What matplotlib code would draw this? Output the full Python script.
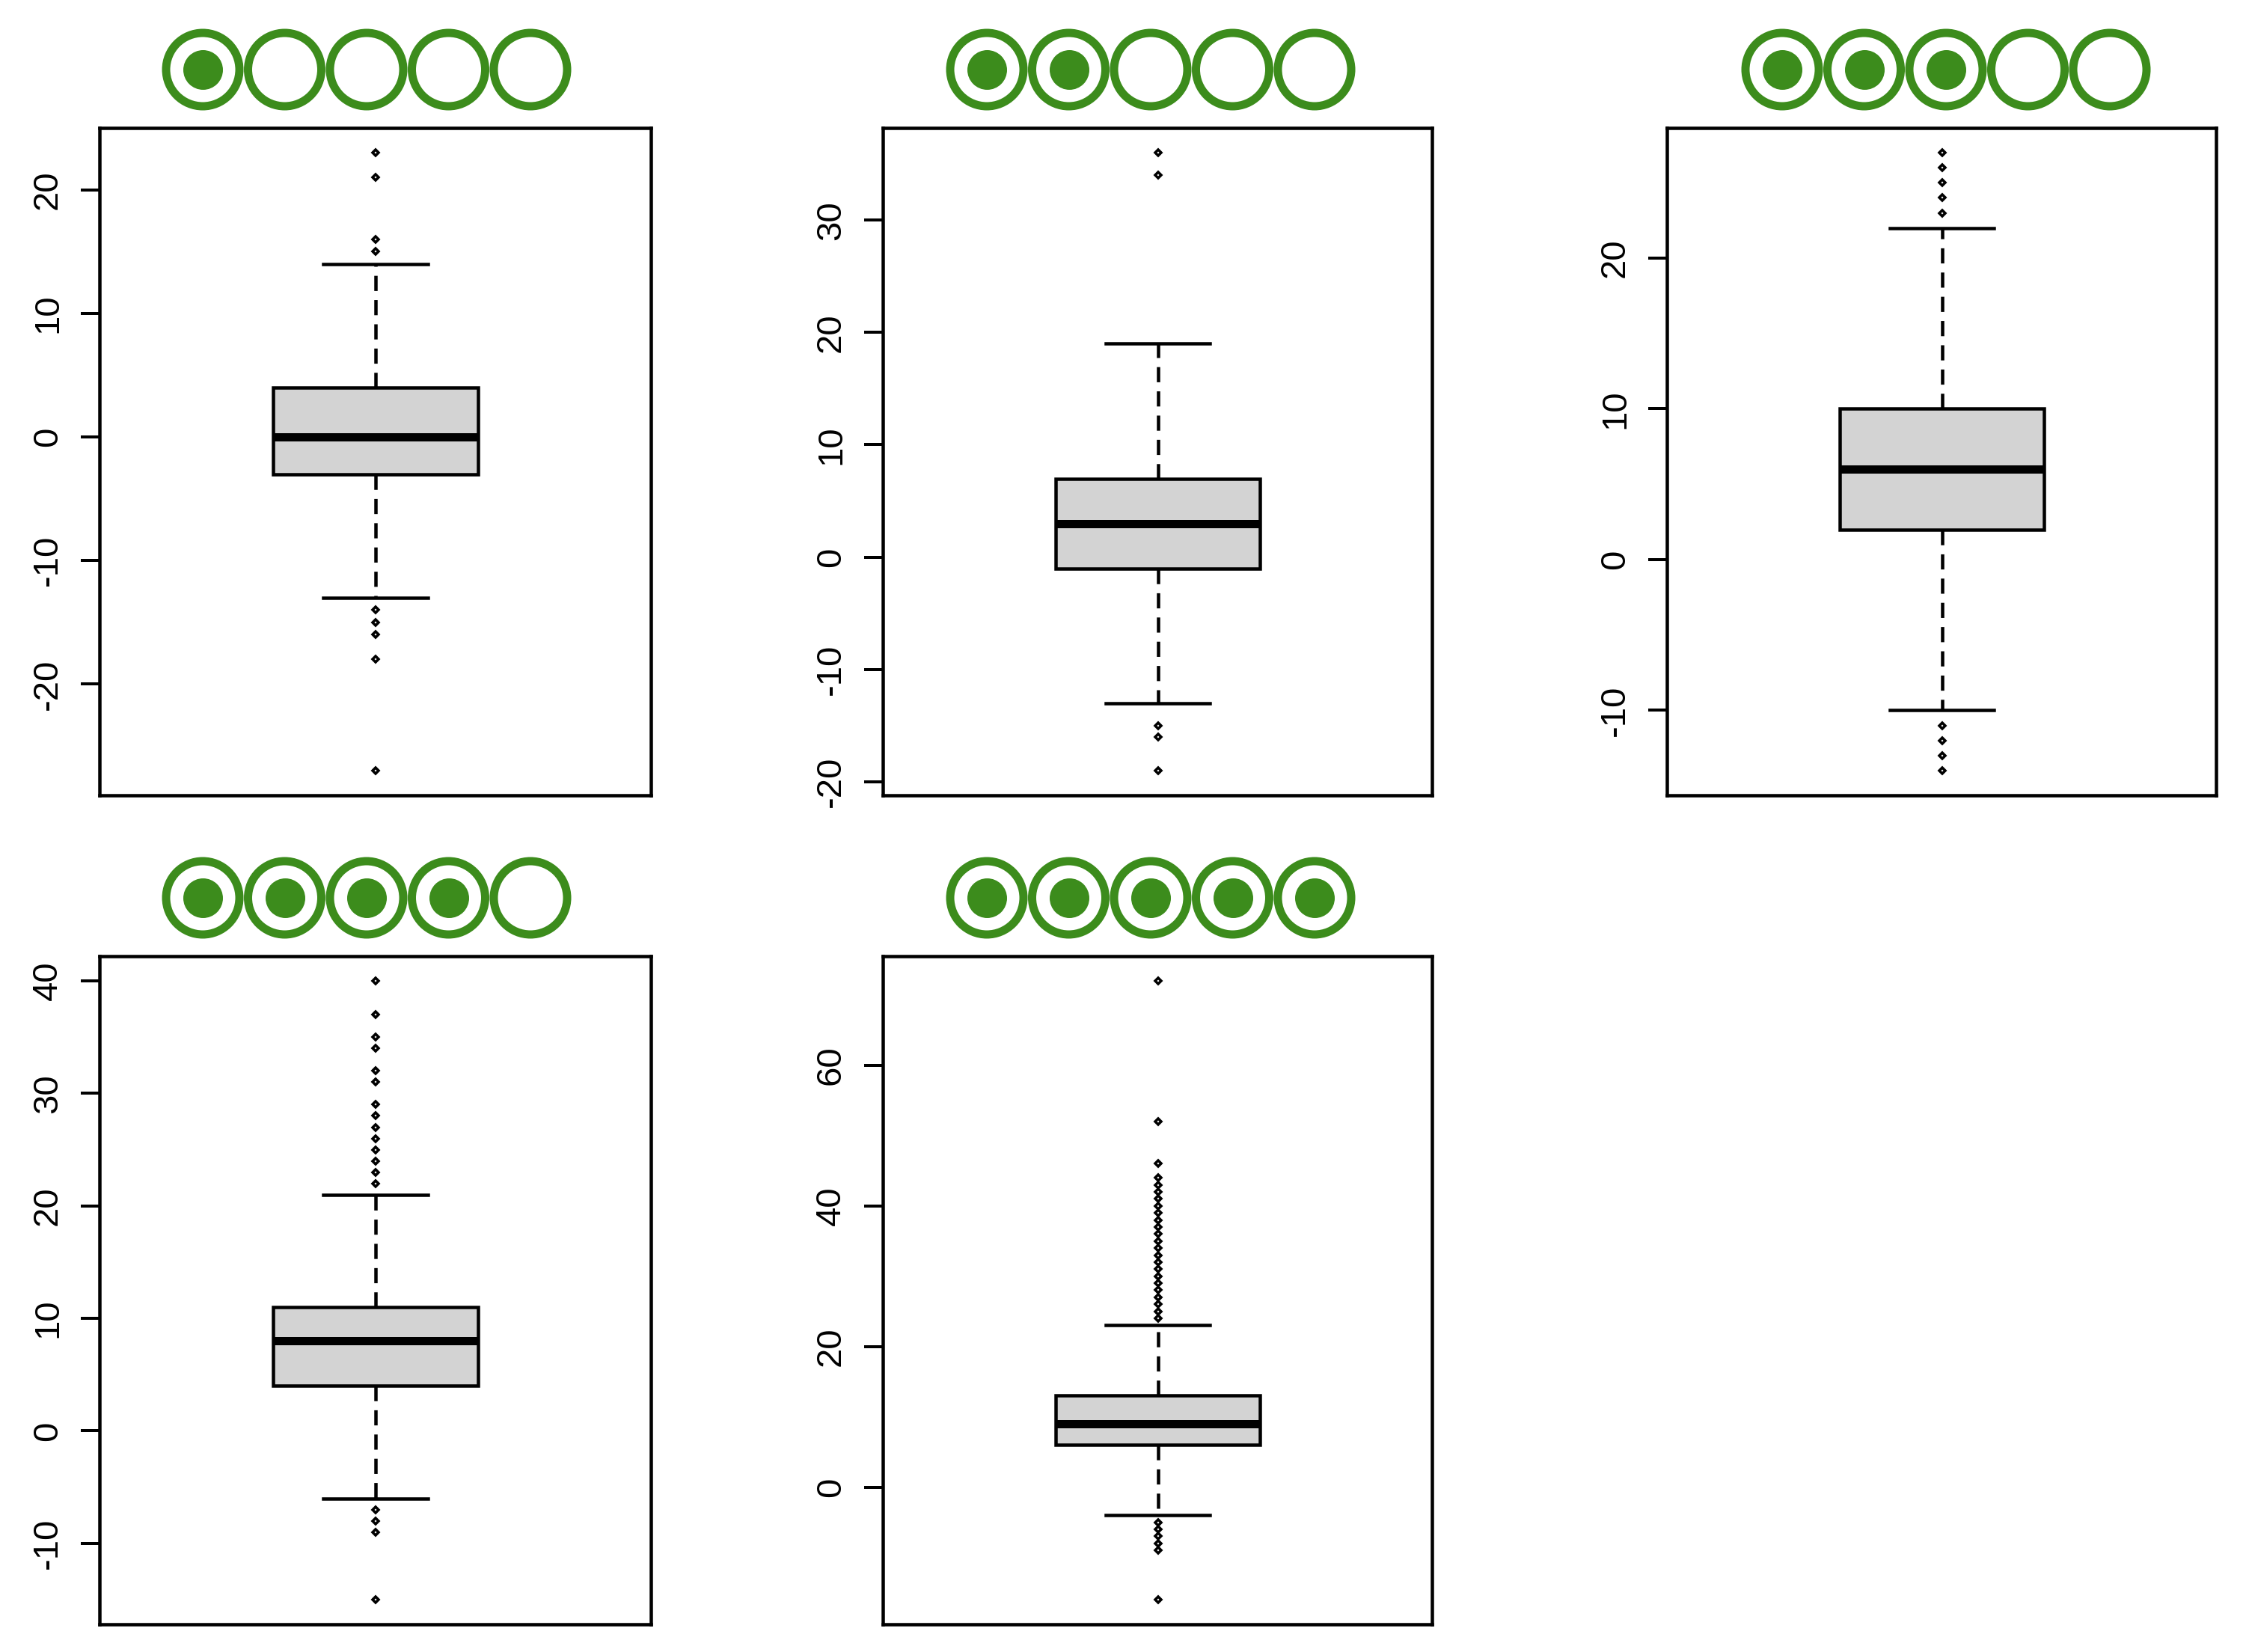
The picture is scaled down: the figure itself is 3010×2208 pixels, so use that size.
import matplotlib
matplotlib.use("Agg")
import matplotlib.pyplot as plt

plt.rcParams['font.family'] = ['Liberation Sans', 'DejaVu Sans']

#Box summaries, one entry per panel
medians = [0, 3, 6, 8, 9]
q1s = [-3, -1, 2, 4, 6]
q3s = [4, 7, 10, 11, 13]
whisker_lows = [-13, -13, -10, -6, -4]
whisker_highs = [14, 19, 22, 21, 23]

#Outliers
fliers_1 = [23, 21, 16, 15, -14, -15, -16, -18, -27]
fliers_2 = [36, 34, -15, -16, -19]
fliers_3 = [27, 26, 25, 24, 23, -11, -12, -13, -14]
fliers_4 = [40, 37, 35, 34, 32, 31, 29, 28, 27, 26, 25, 24, 23, 22, -7, -8, -9, -15]
fliers_5 = [72, 52, 46, 44, 43, 42, 41, 40, 39, 38, 37, 36, 35, 34, 33, 32, 31, 30, 29,
            28, 27, 26, 25, 24, -5, -6, -7, -8, -9, -16]
fliers = [fliers_1, fliers_2, fliers_3, fliers_4, fliers_5]

ticks_1 = [-20, -10, 0, 10, 20]
ticks_2 = [-20, -10, 0, 10, 20, 30]
ticks_3 = [-10, 0, 10, 20]
ticks_4 = [-10, 0, 10, 20, 30, 40]
ticks_5 = [0, 20, 40, 60]
ticks = [ticks_1, ticks_2, ticks_3, ticks_4, ticks_5]

filled_counts = [1, 2, 3, 4, 5]

#Layout in pixels of the 3010x2208 picture
W, H = 3010, 2208
frames = [(133, 171, 870, 1063), (1180, 171, 1914, 1063), (2228, 171, 2962, 1063),
          (133, 1278, 870, 2171), (1180, 1278, 1914, 2171)]
strip_centers = [(490, 93), (1538, 93), (2601, 93), (490, 1200), (1538, 1200)]
SPACING = 109.5
GREEN = '#3c8c1c'
px = 0.72  #pixels to points at dpi 100

fig = plt.figure(figsize=(W / 100, H / 100), dpi=100)

for i in range(5):
    left, top, right, bottom = frames[i]
    ax = fig.add_axes([left / W, 1 - bottom / H, (right - left) / W, (bottom - top) / H])
    stats = [{'med': medians[i], 'q1': q1s[i], 'q3': q3s[i], 'whislo': whisker_lows[i],
              'whishi': whisker_highs[i], 'fliers': fliers[i]}]
    ax.bxp(stats, positions=[1.001], widths=[0.372], capwidths=[0.19], patch_artist=True,
           manage_ticks=False,
           boxprops=dict(facecolor='#d3d3d3', edgecolor='black', linewidth=4.5 * px),
           medianprops=dict(color='black', linewidth=11 * px, solid_capstyle='butt'),
           whiskerprops=dict(color='black', linewidth=4.5 * px, linestyle=(0, (4.5, 2.7))),
           capprops=dict(color='black', linewidth=4.5 * px),
           flierprops=dict(marker='D', markersize=6 * px, markerfacecolor='white',
                           markeredgecolor='black', markeredgewidth=3.5 * px))
    lo, hi = min(fliers[i]), max(fliers[i])
    pad = (hi - lo) * 0.04
    ax.set_xlim(0.5, 1.5)
    ax.set_ylim(lo - pad, hi + pad)
    ax.set_xticks([])
    ax.set_yticks(ticks[i])
    ax.set_yticklabels([str(t) for t in ticks[i]], rotation=90, va='center', fontsize=34)
    ax.tick_params(axis='y', length=25 * px, width=4 * px, pad=22 * px)
    for s in ax.spines.values():
        s.set_linewidth(4.5 * px)

    #Rating circles above the panel
    cx, cy = strip_centers[i]
    strip_w, strip_h = 5 * SPACING, 120
    sx = fig.add_axes([(cx - strip_w / 2) / W, 1 - (cy + strip_h / 2) / H, strip_w / W, strip_h / H])
    sx.set_xlim(-0.5, 4.5)
    sx.set_ylim(-1, 1)
    sx.axis('off')
    sx.scatter(range(5), [0] * 5, s=(98 * px) ** 2, facecolors='none', edgecolors=GREEN,
               linewidths=11 * px, clip_on=False)
    sx.scatter(range(filled_counts[i]), [0] * filled_counts[i], s=(53 * px) ** 2, color=GREEN,
               linewidths=0, clip_on=False)

fig.savefig('out.png', dpi=100)
